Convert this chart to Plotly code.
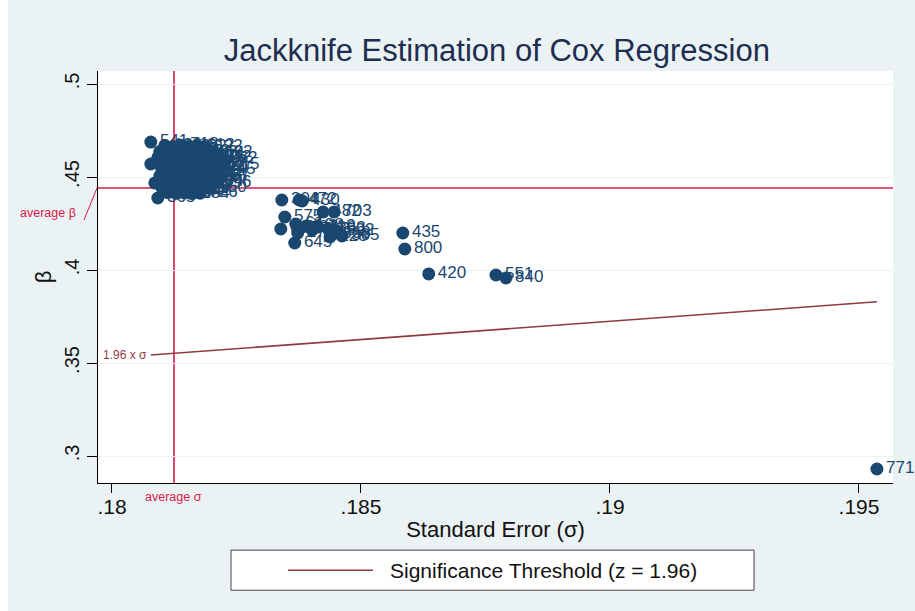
import plotly.graph_objects as go

# Jackknife leave-one-out results: observation dropped, standard error, coefficient
obs_id = [
    "133", "229", "718", "402", "612", "522",
    "45", "301", "588", "97", "266", "803", "114", "692",
    "18", "476", "342", "655", "209", "734", "381", "512", "762",
    "8", "529", "171", "624", "440", "290", "757", "83", "815",
    "63", "358", "497", "216", "683", "139", "570", "745",
    "26", "411", "602", "184", "335", "788", "467", "55",
    "319", "93", "546", "248", "677", "104", "396",
    "71", "453", "272", "618", "827", "39", "150",
    "509", "187", "634", "284", "726",
    "541", "87", "233", "365", "12",
    "304", "472", "430", "482", "703", "575", "640", "61", "407", "198",
    "712", "27", "419", "363", "368", "592", "305", "128", "645",
    "435", "800", "420", "551", "840", "771",
]
std_err = [
    0.18106, 0.18122, 0.18139, 0.18155, 0.18171, 0.18187,
    0.18096, 0.18112, 0.18129, 0.18145, 0.18161, 0.18177, 0.18193, 0.18207,
    0.18092, 0.18108, 0.18124, 0.18141, 0.18157, 0.18173, 0.18189, 0.18205, 0.18217,
    0.18096, 0.18112, 0.18129, 0.18145, 0.18161, 0.18177, 0.18193, 0.18209, 0.18221,
    0.18100, 0.18116, 0.18133, 0.18149, 0.18165, 0.18181, 0.18197, 0.18213,
    0.18104, 0.18120, 0.18137, 0.18153, 0.18169, 0.18185, 0.18201, 0.18215,
    0.18108, 0.18124, 0.18141, 0.18157, 0.18173, 0.18189, 0.18205,
    0.18100, 0.18116, 0.18133, 0.18149, 0.18165, 0.18181, 0.18195,
    0.18112, 0.18129, 0.18145, 0.18161, 0.18177,
    0.18078, 0.18078, 0.18086, 0.18092, 0.18096,
    0.18341, 0.18376, 0.18382, 0.18424, 0.18446, 0.18347, 0.18339, 0.18369, 0.18378, 0.18390,
    0.18402, 0.18373, 0.18414, 0.18434, 0.18444, 0.18452, 0.18462, 0.18438, 0.18367,
    0.18584, 0.18588, 0.18636, 0.18771, 0.18791, 0.19536,
]
beta = [
    0.4669, 0.4664, 0.4671, 0.4662, 0.4666, 0.4660,
    0.4637, 0.4631, 0.4639, 0.4628, 0.4635, 0.4632, 0.4626, 0.4630,
    0.4604, 0.4598, 0.4606, 0.4600, 0.4603, 0.4597, 0.4605, 0.4601, 0.4596,
    0.4572, 0.4567, 0.4574, 0.4569, 0.4565, 0.4571, 0.4568, 0.4573, 0.4566,
    0.4541, 0.4535, 0.4539, 0.4533, 0.4540, 0.4536, 0.4542, 0.4537,
    0.4508, 0.4503, 0.4510, 0.4502, 0.4507, 0.4504, 0.4509, 0.4501,
    0.4476, 0.4471, 0.4474, 0.4469, 0.4477, 0.4472, 0.4470,
    0.4444, 0.4439, 0.4442, 0.4437, 0.4443, 0.4438, 0.4440,
    0.4416, 0.4412, 0.4415, 0.4411, 0.4413,
    0.4688, 0.4570, 0.4468, 0.4387, 0.4505,
    0.43763, 0.43763, 0.43710, 0.43118, 0.43118, 0.42849, 0.42204, 0.42473, 0.42258, 0.42366,
    0.42151, 0.41989, 0.42312, 0.42204, 0.41935, 0.42097, 0.41828, 0.41774, 0.41452,
    0.4199, 0.4113, 0.3979, 0.3973, 0.3957, 0.2930,
]

# Reference values from the full-sample fit
avg_beta = 0.4441
avg_sigma = 0.181245
z_crit = 1.96

x_ticks = [0.18, 0.185, 0.19, 0.195]
x_tick_text = [".18", ".185", ".19", ".195"]
y_ticks = [0.3, 0.35, 0.4, 0.45, 0.5]
y_tick_text = [".3", ".35", ".4", ".45", ".5"]

NAVY = "#1a476f"
CRANBERRY = "#903a42"
RED = "#d71b4a"
BG = "#eaf2f3"
FONT = "Liberation Sans, Arial, Helvetica, sans-serif"

fig = go.Figure()

# Threshold beta = z * sigma across the observed range of standard errors
se_lo, se_hi = min(std_err), max(std_err)
fig.add_trace(go.Scatter(
    x=[se_lo, se_hi], y=[z_crit * se_lo, z_crit * se_hi],
    mode="lines", line=dict(color=CRANBERRY, width=1.6),
    showlegend=False, hoverinfo="skip",
))

# One trace per observation so later markers cover earlier labels
for oid, se, b in sorted(zip(obs_id, std_err, beta), key=lambda r: r[1]):
    fig.add_trace(go.Scatter(
        x=[se], y=[b], text=[oid], mode="markers+text",
        textposition="middle right",
        marker=dict(color=NAVY, size=13, line=dict(width=0)),
        textfont=dict(color=NAVY, size=17, family=FONT),
        cliponaxis=False, showlegend=False,
    ))

# Average reference lines
fig.add_shape(type="line", xref="paper", yref="y", x0=0, x1=1, y0=avg_beta, y1=avg_beta,
              line=dict(color=RED, width=1.6), layer="below")
fig.add_shape(type="line", xref="x", yref="paper", x0=avg_sigma, x1=avg_sigma, y0=0, y1=1,
              line=dict(color=RED, width=1.6), layer="below")

# "average beta" label with its leader line
fig.add_annotation(xref="paper", yref="y", x=-0.025, y=avg_beta, yshift=-25,
                   xanchor="right", yanchor="middle", showarrow=False,
                   text="average β", font=dict(color=RED, size=12.5, family=FONT))
fig.add_shape(type="line", xref="paper", yref="y", xsizemode="pixel", ysizemode="pixel",
              xanchor=0, yanchor=avg_beta, x0=-14, x1=-1, y0=-32, y1=0,
              line=dict(color=RED, width=1))

fig.add_annotation(xref="x", yref="paper", x=avg_sigma, y=0, yshift=-5,
                   xanchor="center", yanchor="top", showarrow=False,
                   text="average σ", font=dict(color=RED, size=12.5, family=FONT))

fig.add_annotation(xref="x", yref="y", x=se_lo, y=z_crit * se_lo, xshift=-2,
                   xanchor="right", yanchor="middle", showarrow=False,
                   text="1.96 x σ", font=dict(color=CRANBERRY, size=12, family=FONT))

# Legend box drawn below the plot
fig.add_shape(type="rect", xref="paper", yref="paper", x0=0.1673, x1=0.8252, y0=-0.2603, y1=-0.1630,
              line=dict(color="#444444", width=1), fillcolor="white")
fig.add_shape(type="line", xref="paper", yref="paper", x0=0.239, x1=0.3459, y0=-0.2117, y1=-0.2117,
              line=dict(color=CRANBERRY, width=1.6))
fig.add_annotation(xref="paper", yref="paper", x=0.3648, y=-0.2117, xanchor="left", yanchor="middle",
                   showarrow=False, text="Significance Threshold (z = 1.96)",
                   font=dict(color="#111111", size=21, family=FONT))

# White border around the graph region
fig.add_shape(type="rect", xref="paper", yref="paper", x0=-0.1233, x1=-0.1132, y0=-0.32, y1=1.2,
              line=dict(width=0), fillcolor="white", layer="below")

fig.update_layout(
    width=915, height=611,
    margin=dict(l=98, r=22, t=71, b=128),
    paper_bgcolor=BG, plot_bgcolor="white",
    font=dict(family=FONT, color="#111111"),
    title=dict(text="Jackknife Estimation of Cox Regression", x=0.543, xanchor="center",
               y=1 - 50 / 611, yanchor="middle", yref="container",
               font=dict(size=31, color="#1e2d50", family=FONT)),
    showlegend=False,
)
fig.update_xaxes(
    range=[0.179719, 0.195683], tickvals=x_ticks, ticktext=x_tick_text,
    showgrid=False, zeroline=False, showline=True, linecolor="black", linewidth=1,
    ticks="outside", ticklen=9, tickcolor="black", tickfont=dict(size=21, color="#111111"),
    ticklabelstandoff=-4,
    title=dict(text="Standard Error (σ)", font=dict(size=22, color="#111111"), standoff=4),
)
fig.update_yaxes(
    range=[0.285484, 0.506989], tickvals=y_ticks, ticktext=y_tick_text, tickangle=-90,
    showgrid=True, gridcolor=BG, gridwidth=1, zeroline=False,
    showline=True, linecolor="black", linewidth=1,
    ticks="outside", ticklen=10, tickcolor="black", tickfont=dict(size=20, color="#111111"),
    title=dict(text="β", font=dict(size=22, color="#111111"), standoff=3),
)

fig.write_html("out.html")
